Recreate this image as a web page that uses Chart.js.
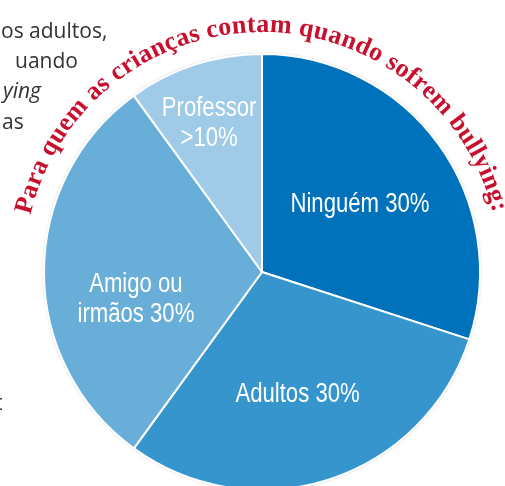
<!DOCTYPE html>
<html>
<head>
<meta charset="utf-8">
<script src="https://cdn.jsdelivr.net/npm/chart.js@4/dist/chart.umd.min.js"></script>
<style>
  html, body { margin: 0; padding: 0; background: #fff; }
  #wrap { width: 505px; height: 486px; position: relative; }
</style>
</head>
<body>
<div id="wrap"><canvas id="myChart"></canvas></div>
<script>
// pie data
const labels = ['Ninguém 30%', 'Adultos 30%', ['Amigo ou', 'irmãos 30%'], ['Professor', '>10%']];
const values = [30, 30, 30, 10];
const colors = ['#0072bc', '#3795cd', '#68aed8', '#a0cbe8'];

// curved heading and the clipped paragraph on the left
const titleText = 'Para quem as crianças contam quando sofrem bullying:';
const bodyLines = ['os adultos,', 'uando', 'ying', 'as', 't'];

// label placement: fraction of radius, angle nudge in degrees
const labelPos = [[0.552, 0.5], [0.574, 1.5], [0.59, -11.4], [0.734, -1.3]];

const deg = Math.PI / 180;

const shadowPlugin = {
  id: 'pieShadow',
  beforeDatasetsDraw(chart) {
    const arc = chart.getDatasetMeta(0).data[0];
    if (!arc) return;
    const ctx = chart.ctx;
    ctx.save();
    ctx.shadowColor = 'rgba(0,0,0,0.35)';
    ctx.shadowBlur = 3;
    ctx.fillStyle = '#fff';
    ctx.beginPath();
    ctx.arc(arc.x, arc.y, arc.outerRadius, 0, Math.PI * 2);
    ctx.fill();
    ctx.restore();
  }
};

const textPlugin = {
  id: 'pieText',
  afterDatasetsDraw(chart) {
    const ctx = chart.ctx;
    const arcs = chart.getDatasetMeta(0).data;

    // slice labels (condensed look: Liberation Sans squeezed sideways)
    ctx.save();
    ctx.fillStyle = '#ffffff';
    ctx.font = '27px "Liberation Sans", Arial, sans-serif';
    ctx.textAlign = 'center';
    ctx.textBaseline = 'alphabetic';
    arcs.forEach((arc, i) => {
      const p = arc.getProps(['x', 'y', 'startAngle', 'endAngle', 'outerRadius'], true);
      const mid = (p.startAngle + p.endAngle) / 2 + labelPos[i][1] * deg;
      const r = p.outerRadius * labelPos[i][0];
      const px = p.x + Math.cos(mid) * r;
      const py = p.y + Math.sin(mid) * r;
      const lines = [].concat(chart.data.labels[i]);
      lines.forEach((t, j) => {
        ctx.save();
        ctx.translate(px, py + 10 + (j - (lines.length - 1) / 2) * 30);
        ctx.scale(0.82, 1);
        ctx.fillText(t, 0, 0);
        ctx.restore();
      });
    });
    ctx.restore();

    // curved heading round the pie
    const a0 = arcs[0];
    const cx = a0.x, cy = a0.y - 2, rad = a0.outerRadius + 20;
    ctx.save();
    ctx.font = 'bold 26px "Liberation Serif", "Times New Roman", serif';
    ctx.fillStyle = '#c8102e';
    ctx.textAlign = 'center';
    ctx.textBaseline = 'alphabetic';
    const spacing = 0.3;
    const chars = Array.from(titleText);
    const widths = chars.map(c => ctx.measureText(c).width);
    const total = widths.reduce((s, w) => s + w, 0) + spacing * (chars.length - 1);
    let ang = -0.3 * deg - (total / rad) / 2;
    chars.forEach((c, i) => {
      const w = widths[i];
      const a = ang + (w / 2) / rad;
      ctx.save();
      ctx.translate(cx + Math.sin(a) * rad, cy - Math.cos(a) * rad);
      ctx.rotate(a);
      ctx.fillText(c, 0, 0);
      ctx.restore();
      ang += (w + spacing) / rad;
    });
    ctx.restore();

    // paragraph text cut off at the left edge
    ctx.save();
    ctx.fillStyle = '#333333';
    ctx.textAlign = 'left';
    ctx.textBaseline = 'alphabetic';
    const pos = [[1, 38, ''], [15, 68, ''], [3, 98, 'italic '], [2, 129, ''], [-5, 410, '']];
    bodyLines.forEach((t, i) => {
      ctx.font = pos[i][2] + '21px "Open Sans", sans-serif';
      ctx.fillText(t, pos[i][0], pos[i][1]);
    });
    ctx.restore();
  }
};

const ctx = document.getElementById('myChart').getContext('2d');
const myChart = new Chart(ctx, {
  type: 'pie',
  data: {
    labels: labels,
    datasets: [{
      data: values,
      backgroundColor: colors,
      borderColor: '#ffffff',
      borderWidth: 2,
      hoverOffset: 0,
      clip: false
    }]
  },
  options: {
    responsive: true,
    maintainAspectRatio: false,
    animation: false,
    radius: 218,
    layout: { padding: { left: 19, right: 0, top: 58, bottom: 0 } },
    plugins: {
      legend: { display: false },
      tooltip: { enabled: false },
      title: { display: false }
    },
    events: []
  },
  plugins: [shadowPlugin, textPlugin]
});
</script>
</body>
</html>
